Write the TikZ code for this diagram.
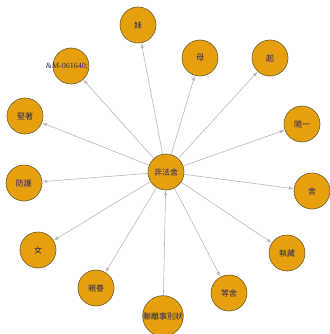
\documentclass[tikz,border=0pt]{standalone}
\usepackage{fontspec}
\newfontfamily\cjk{Noto Sans CJK TC}
\setmainfont{Liberation Serif}
\usetikzlibrary{arrows.meta}
\definecolor{nodefill}{HTML}{E6A00E}
\definecolor{nodeline}{HTML}{6B5A2A}
\definecolor{labtext}{HTML}{2A2660}
\definecolor{edgecol}{HTML}{B8B8BC}
\tikzset{
  vert/.style={circle, draw=nodeline, line width=0.6pt, fill=nodefill, minimum size=36pt, inner sep=0pt,
     font=\cjk\fontsize{8}{9}\selectfont, text=labtext},
  link/.style={draw=edgecol, line width=0.6pt, -{Latex[length=5pt,width=3.5pt]}}
}
\begin{document}
\begin{tikzpicture}[x=1pt,y=-1pt]
\useasboundingbox (0,0) rectangle (329,334);
\node[vert] (c) at (166,172) {非法舍};
\node[vert] (mei) at (138,25) {妹};
\node[vert] (mu) at (200,58) {母};
\node[vert] (qi) at (270,58) {起};
\node[vert, font=\fontsize{8}{9}\selectfont] (m) at (71,66) {\hspace*{-8pt}\&M-061640;};
\node[vert] (jz) at (25,116) {堅著};
\node[vert] (sy) at (302,124) {隨一};
\node[vert] (fh) at (24,183) {防護};
\node[vert] (she) at (312,191) {舍};
\node[vert] (nv) at (38,250) {女};
\node[vert] (zc) at (287,253) {執藏};
\node[vert] (qj) at (96,288) {親眷};
\node[vert] (ds) at (229,293) {等舍};
\node[vert] (bt) at (163,316) {聯離事別狀};
\foreach \t in {mei,mu,qi,m,jz,sy,fh,she,nv,zc,qj,ds}
  \draw[link] (c) -- (\t);
\draw[link] (bt) -- (c);
\end{tikzpicture}
\end{document}
